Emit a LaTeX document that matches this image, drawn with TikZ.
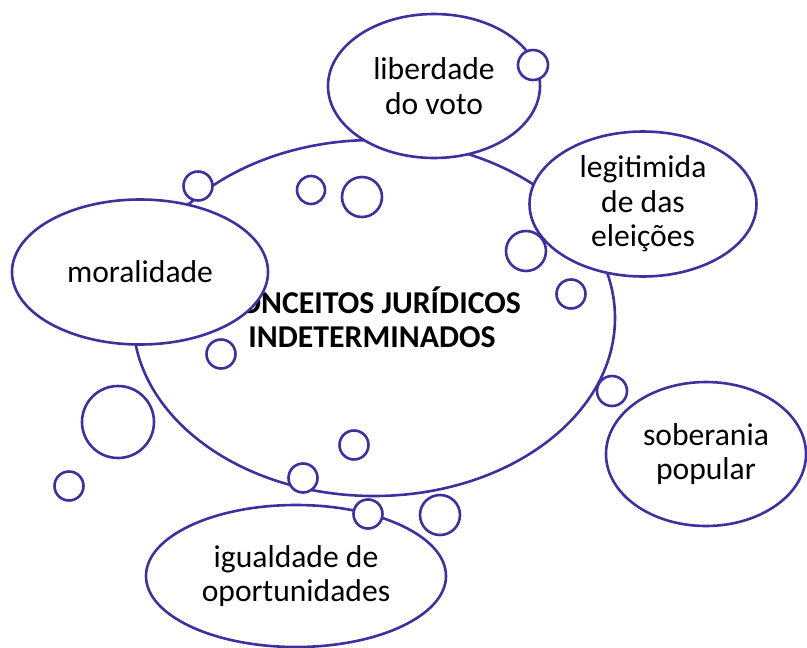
\documentclass[tikz,border=0pt]{standalone}
\usepackage{fontspec}
\setmainfont{Carlito}
\usetikzlibrary{shapes.geometric}
\definecolor{ink}{RGB}{63,48,158}
\tikzset{
  x=1pt,y=-1pt,
  oval/.style={ellipse,draw=ink,fill=white,line width=2.6pt,inner sep=0pt,align=center,
    font=\fontsize{31.6}{34.5}\selectfont},
  bubble/.style={circle,draw=ink,fill=white,line width=2.6pt,inner sep=0pt},
}
\begin{document}
\begin{tikzpicture}
\useasboundingbox (0,0) rectangle (807,648);
% central idea
\node[oval,minimum width=482pt,minimum height=356pt] (center) at (374,318) {};
\node[font=\fontsize{31.8}{34}\selectfont\bfseries,align=center] (title) at (372,317)
  {CONCEITOS JURÍDICOS\\INDETERMINADOS};
% surrounding ideas
\node[oval,minimum width=256pt,minimum height=145pt] (moral) at (140,272) {moralidade};
\node[oval,minimum width=212pt,minimum height=144pt] (liber) at (434,86) {liberdade\\do voto};
\node[oval,minimum width=227pt,minimum height=145pt] (legit) at (643,204) {legitimida\\de das\\eleições};
\node[oval,minimum width=200pt,minimum height=144pt] (sober) at (706,454) {soberania\\popular};
\node[oval,minimum width=300pt,minimum height=142pt] (igual) at (296,576) {igualdade de\\oportunidades};
% bubbles
\node[bubble,minimum size=30pt] (b1) at (533,65) {};
\node[bubble,minimum size=29pt] (b2) at (198,186) {};
\node[bubble,minimum size=28pt] (b3) at (311,190) {};
\node[bubble,minimum size=40pt] (b4) at (362,197) {};
\node[bubble,minimum size=40pt] (b5) at (526,251) {};
\node[bubble,minimum size=29pt] (b6) at (571,294) {};
\node[bubble,minimum size=29pt] (b7) at (221,354) {};
\node[bubble,minimum size=30pt] (b8) at (612,391) {};
\node[bubble,minimum size=72pt] (b9) at (118,422) {};
\node[bubble,minimum size=29pt] (b10) at (69,486) {};
\node[bubble,minimum size=29pt] (b11) at (354,445) {};
\node[bubble,minimum size=29pt] (b12) at (303,478) {};
\node[bubble,minimum size=29pt] (b13) at (368,514) {};
\node[bubble,minimum size=40pt] (b14) at (440,515) {};
\end{tikzpicture}
\end{document}
